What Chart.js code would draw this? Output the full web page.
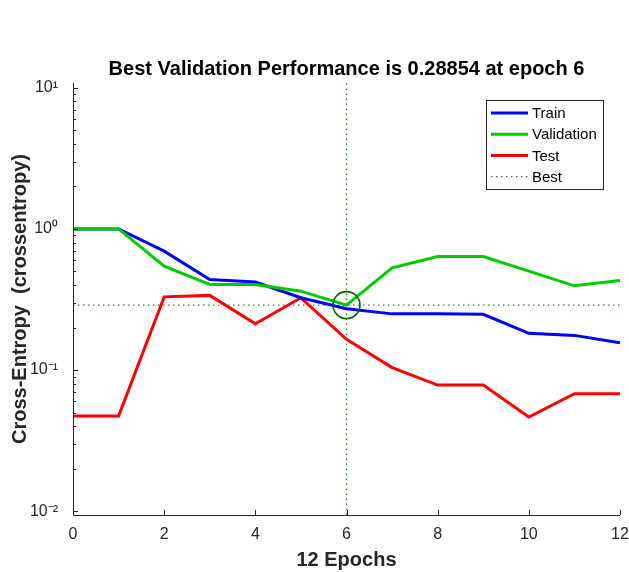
<!DOCTYPE html>
<html>
<head>
<meta charset="utf-8">
<script src="https://cdn.jsdelivr.net/npm/chart.js@4"></script>
<style>
html,body{margin:0;padding:0;background:#fff;}
#wrap{width:629px;height:572px;position:relative;}
</style>
</head>
<body>
<div id="wrap"><canvas id="c" width="629" height="572"></canvas></div>
<script>
// ---- data ----
const epochs = [0,1,2,3,4,5,6,7,8,9,10,11,12];
const trainPerf = [1.0,1.0,0.695,0.438,0.42,0.325,0.272,0.25,0.25,0.248,0.182,0.176,0.156];
const valPerf   = [1.0,1.0,0.545,0.404,0.404,0.362,0.28854,0.53,0.637,0.637,0.502,0.395,0.431];
const testPerf  = [0.0472,0.0472,0.33,0.338,0.213,0.325,0.165,0.104,0.0783,0.0783,0.0465,0.068,0.068];
const bestEpoch = 6;
const bestValue = 0.28854;
const xTicks = [0,2,4,6,8,10,12];
const yMajorTicks = [0.01,0.1,1,10];
const yTickLabels = ['10\u207B\u00B2','10\u207B\u00B9','10\u2070','10\u00B9'];
const yMin = 0.0094, yMax = 10.8;
const titleText = 'Best Validation Performance is ' + bestValue + ' at epoch ' + bestEpoch;

const FONT = '"Liberation Sans", Arial, sans-serif';
const pts = (ys) => epochs.map((e,i)=>({x:e,y:ys[i]}));

const innerTicks = {
  id:'innerTicks',
  afterDatasetsDraw(chart){
    const ctx = chart.ctx, xs = chart.scales.x, ys = chart.scales.y, a = chart.chartArea;
    ctx.save();
    ctx.strokeStyle = '#262626'; ctx.lineWidth = 1;
    ctx.beginPath();
    ctx.moveTo(a.left+0.5, a.top); ctx.lineTo(a.left+0.5, a.bottom+0.5); ctx.lineTo(a.right, a.bottom+0.5);
    xTicks.forEach(v=>{const px=Math.round(xs.getPixelForValue(v))+0.5; ctx.moveTo(px,a.bottom); ctx.lineTo(px,a.bottom-5);});
    for(let k=-2;k<=1;k++){
      for(let m=1;m<=9;m++){
        const v=m*Math.pow(10,k);
        if(v<yMin||v>yMax) continue;
        const py=Math.round(ys.getPixelForValue(v))+0.5;
        ctx.moveTo(a.left,py); ctx.lineTo(a.left+(m===1?5:3),py);
      }
    }
    ctx.stroke();
    ctx.restore();
  }
};

const legendBox = {
  id:'legendBox',
  afterDraw(chart){
    const ctx = chart.ctx;
    const items = chart.data.datasets.filter(d=>d.legend);
    const x0=486, y0=100, w=117, h=89;
    ctx.save();
    ctx.fillStyle='#fff'; ctx.fillRect(x0,y0,w,h);
    ctx.strokeStyle='#262626'; ctx.lineWidth=1; ctx.strokeRect(x0+0.5,y0+0.5,w,h);
    ctx.font='15px '+FONT;
    ctx.textBaseline='middle';
    items.forEach((d,i)=>{
      const y=y0+13+i*21.2;
      ctx.strokeStyle=d.borderColor; ctx.lineWidth=d.borderWidth;
      ctx.setLineDash(d.borderDash||[]);
      ctx.beginPath(); ctx.moveTo(x0+5,y); ctx.lineTo(x0+42,y); ctx.stroke();
      ctx.setLineDash([]);
      ctx.fillStyle='#000'; ctx.fillText(d.label,x0+46,y+1);
    });
    ctx.restore();
  }
};

new Chart(document.getElementById('c'),{
  type:'line',
  data:{datasets:[
    {label:'Train',data:pts(trainPerf),borderColor:'#0000ff',borderWidth:3,pointRadius:0,legend:true,order:3},
    {label:'Validation',data:pts(valPerf),borderColor:'#00cc00',borderWidth:3,pointRadius:0,legend:true,order:2},
    {label:'Test',data:pts(testPerf),borderColor:'#ff0000',borderWidth:3,pointRadius:0,legend:true,order:4},
    {label:'Best',data:[{x:epochs[0],y:bestValue},{x:epochs[epochs.length-1],y:bestValue}],borderColor:'#1a8c1a',borderWidth:1.3,borderDash:[1.5,3.5],pointRadius:0,legend:true,order:5},
    {label:'BestV',data:[{x:bestEpoch,y:yMin},{x:bestEpoch,y:yMax}],borderColor:'#1a8c1a',borderWidth:1.3,borderDash:[1.5,3.5],pointRadius:0,order:5},
    {label:'BestPt',type:'scatter',data:[{x:bestEpoch,y:bestValue}],borderColor:'#006400',backgroundColor:'rgba(0,0,0,0)',borderWidth:1.6,pointRadius:13.5,pointHoverRadius:13.5,pointStyle:'circle',order:1}
  ]},
  options:{
    responsive:false,animation:false,
    layout:{autoPadding:false,padding:{left:0,right:0,top:0,bottom:0}},
    plugins:{
      legend:{display:false},tooltip:{enabled:false},
      title:{display:true,fullSize:false,text:titleText,color:'#000',font:{family:FONT,size:20,weight:'bold'},padding:{top:57,bottom:2}}
    },
    scales:{
      x:{type:'linear',min:0,max:12,
        afterBuildTicks(s){s.ticks=xTicks.map(v=>({value:v}));},
        grid:{display:false,drawTicks:false},border:{display:false},
        ticks:{color:'#262626',padding:10,font:{family:FONT,size:16}},
        title:{display:true,text:'12 Epochs',color:'#262626',padding:{top:2,bottom:0},font:{family:FONT,size:20,weight:'bold'}},
        afterFit(s){s.height=57; s.paddingRight=9; s.paddingLeft=0;}
      },
      y:{type:'logarithmic',min:yMin,max:yMax,
        afterBuildTicks(s){s.ticks=yMajorTicks.map(v=>({value:v}));},
        grid:{display:false,drawTicks:false},border:{display:false},
        ticks:{color:'#262626',padding:15,font:{family:FONT,size:16},
          callback:(v)=>{const i=yMajorTicks.indexOf(v);return i>=0?yTickLabels[i]:'';}},
        title:{display:true,text:'Cross-Entropy  (crossentropy)',color:'#262626',padding:{top:8,bottom:0},font:{family:FONT,size:20,weight:'bold'}},
        afterFit(s){s.width=73;}
      }
    }
  },
  plugins:[innerTicks,legendBox]
});
</script>
</body>
</html>
